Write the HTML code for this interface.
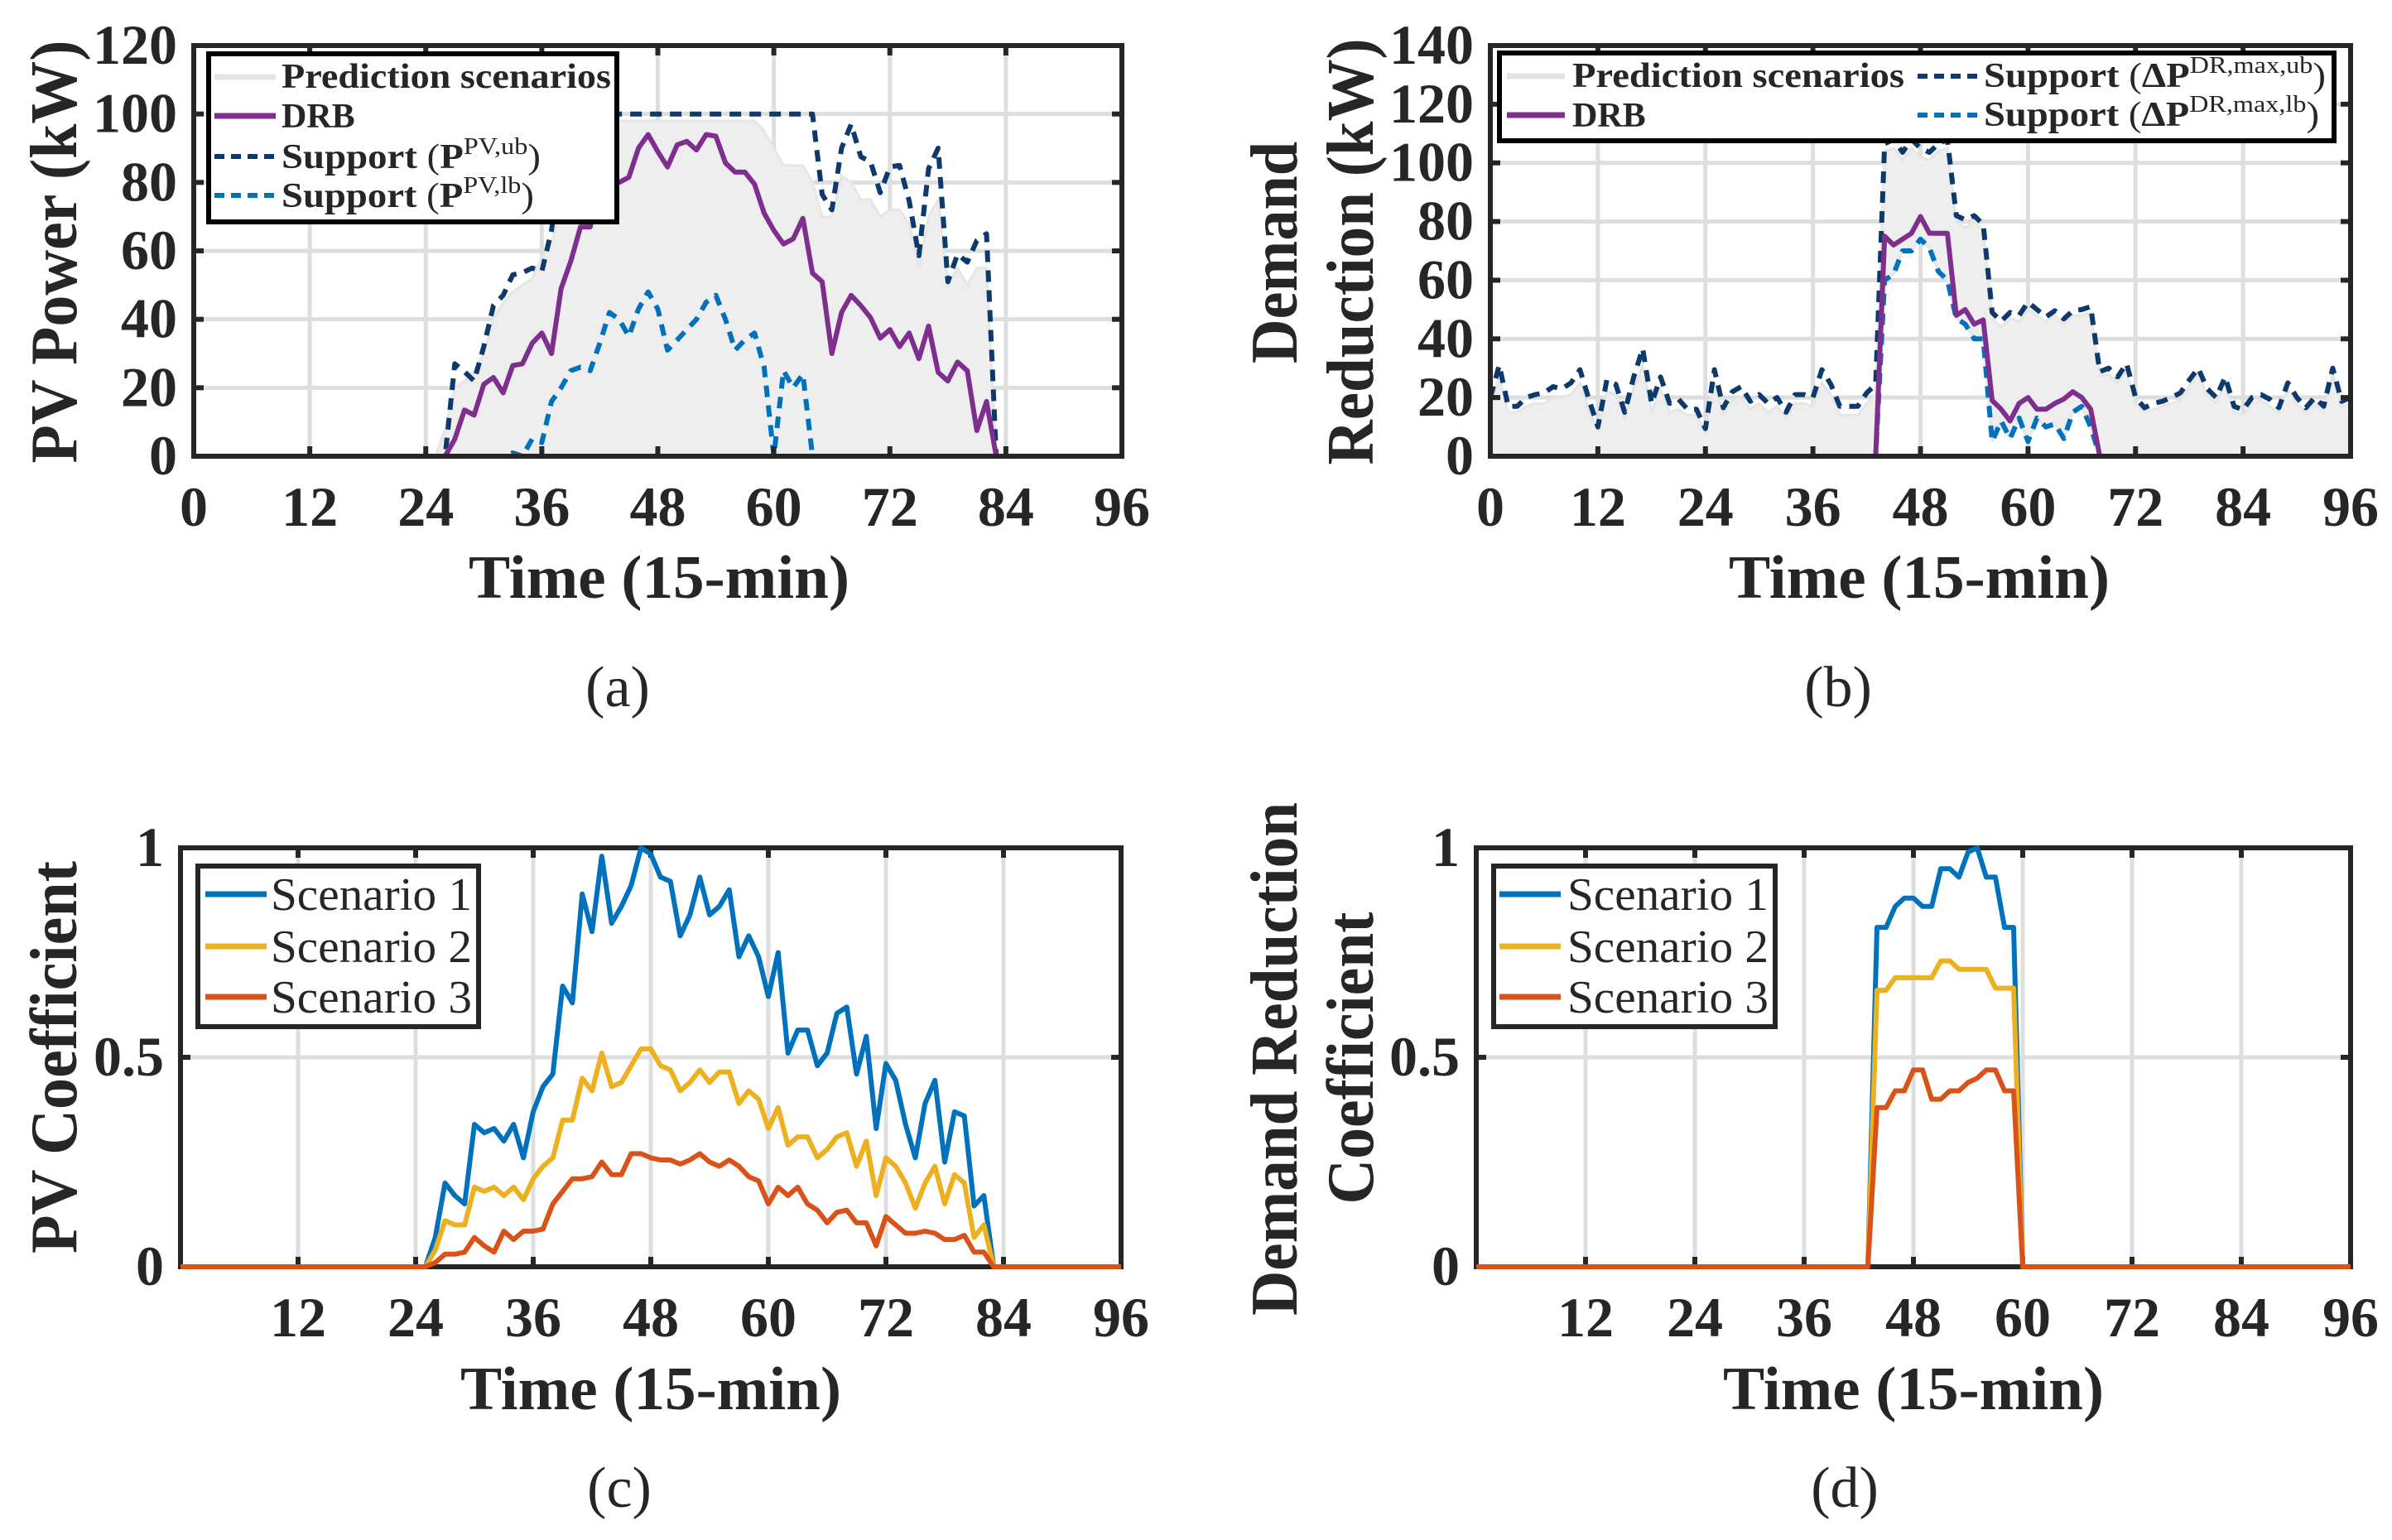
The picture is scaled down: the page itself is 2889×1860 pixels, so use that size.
<!DOCTYPE html>
<html><head><meta charset="utf-8"><style>
html,body{margin:0;padding:0;background:#fff;}
svg{display:block;}
text{font-family:"Liberation Serif",serif;fill:#262626;}
</style></head><body>
<svg id="fig" width="2889" height="1860" viewBox="0 0 2889 1860" xmlns="http://www.w3.org/2000/svg">
<rect x="0" y="0" width="2889" height="1860" fill="#fff"/>
<g id="layer"></g>
</svg>
<script>
// ---------- Panel (a) data: PV power (kW) ----------
const timeTicks = [0,12,24,36,48,60,72,84,96];
const yTicksA = [0,20,40,60,80,100,120];
const yTicksB = [0,20,40,60,80,100,120,140];
const yTicksC = [0,0.5,1];
const yTickLabelsC = ["0","0.5","1"];
const drbAStart = 27;
const drbA = [5,13.5,12,21,23,18.5,26.5,27,33,36,30,49,57,67,67,79,79,80,81.5,90,94,89,84.5,91,92,89.5,94,93.5,85.7,83,83,79.5,71,66,62,63.5,69.5,53.5,51,30,42,47,44,40.5,34.5,37,32,36,28.5,38,24.5,22,27.5,25,7.5,16,0];
const ubAStart = 27;
const ubA = [27,24.7,22,32,44,47,53,53.6,55,54,66,85,100,100,100,100,100,100,100,100,100,100,100,100,100,100,100,100,100,100,100,100,100,100,100,100,100,100,76.5,72,90,97,87.5,86,77,84.5,85,74.6,58.6,84,90,51,59,56.7,63,65,0];
const lbAStart = 33;
const lbA = [1,0,5,4,16,20,25,26,25,33,42,40,35,43,48,43,31,34,37,40,45,47,40,31,34,36,26,0,25,20,24,0];
const scenMaxAStart = 26;
const scenMaxA = [8,20,22,25,30,40,45,48,50,52,58,62,72,85,95,97,98,98,98,98,98,98,98,98,98,98,98,98,98,98,98,98,98,95,90,85,85,85,80,70,70,82,80,75,75,70,72,72,68,55,70,75,50,55,50,55,55,0];
// ---------- Panel (b) data: demand reduction (kW) ----------
const ubB = [20,31,17,17,20,21,21.6,23.7,23,25,29.5,19.4,10,26,24.5,15,27,36.7,18,27,18,19.4,16,16,9.4,29.5,16.5,22,23.7,18.7,21,18,20,15,21,21,20,29.5,24.5,17,17,17,21.6,24.5,
106.5,108,103.6,108,105,103.6,106.5,108,82,80.6,82,79,49,46,49,48,52.5,50,47.5,49.6,46.8,49.6,50,51,28.8,30,27,31.6,20,16.5,18,18.7,20,21.6,26,30,23,20,27,17,15.8,20,21,19.4,16.5,25,20,16.5,20,17,30,18.7,20];
const scenMaxB = [17,27,15,15,17,18,18,20,20,21,25,16,9,22,21,13,23,31,15,23,15,16,14,14,8,25,14,19,20,16,18,15,17,13,18,18,17,25,21,14,14,14,18,21,
104,105,101,105,102,101,104,105,80,78,80,77,47,44,47,46,50,48,46,48,45,48,48,49,27,28,25,29,18,15,16,17,18,19,24,28,21,18,25,15,14,18,19,17,15,23,18,15,18,15,28,17,18];
const drbBStart = 44;
const drbB = [75,72,74,76,81.7,76,76,76,48,50,45,46.5,19,16,12,18,20,16,16,18,19.5,22,20,16,0];
const lbBStart = 44;
const lbB = [60,62,70,70,74,71,63,60,47,45,40,40,5,12,6,13,5,13,10,11,6,15,17,10,0];
// ---------- Panel (c) data: PV coefficient ----------
const sCStart = 26;
const s1C = [0.07,0.2,0.17,0.15,0.34,0.32,0.33,0.3,0.34,0.26,0.37,0.43,0.46,0.67,0.63,0.89,0.8,0.98,0.82,0.86,0.91,1.0,0.985,0.93,0.92,0.79,0.84,0.93,0.84,0.86,0.9,0.74,0.79,0.74,0.645,0.75,0.51,0.565,0.565,0.48,0.51,0.605,0.62,0.46,0.55,0.33,0.485,0.445,0.34,0.26,0.39,0.445,0.25,0.37,0.36,0.145,0.17,0];
const s2C = [0.04,0.11,0.1,0.1,0.19,0.18,0.19,0.17,0.19,0.16,0.21,0.24,0.26,0.35,0.35,0.45,0.42,0.51,0.43,0.44,0.48,0.52,0.52,0.48,0.47,0.42,0.44,0.47,0.44,0.465,0.465,0.39,0.42,0.4,0.33,0.38,0.29,0.31,0.31,0.26,0.28,0.31,0.32,0.24,0.3,0.17,0.26,0.24,0.2,0.14,0.2,0.24,0.15,0.22,0.2,0.07,0.1,0];
const s3C = [0.01,0.03,0.03,0.035,0.07,0.05,0.035,0.085,0.065,0.085,0.085,0.09,0.15,0.18,0.21,0.21,0.215,0.25,0.22,0.22,0.27,0.27,0.26,0.255,0.255,0.245,0.255,0.27,0.25,0.24,0.255,0.24,0.215,0.205,0.15,0.19,0.17,0.19,0.15,0.135,0.105,0.13,0.135,0.105,0.105,0.05,0.12,0.1,0.08,0.08,0.085,0.08,0.065,0.065,0.075,0.035,0.035,0];
// ---------- Panel (d) data: demand reduction coefficient ----------
const sDStart = 44;
const s1D = [0.81,0.81,0.86,0.88,0.88,0.86,0.86,0.95,0.95,0.93,0.99,1.0,0.93,0.93,0.81,0.81];
const s2D = [0.66,0.66,0.69,0.69,0.69,0.69,0.69,0.73,0.73,0.71,0.71,0.71,0.71,0.665,0.665,0.665];
const s3D = [0.38,0.38,0.42,0.42,0.47,0.47,0.40,0.40,0.42,0.42,0.44,0.45,0.47,0.47,0.42,0.42];

const NS = "http://www.w3.org/2000/svg";
const layer = document.getElementById("layer");
function mk(tag, attrs, parent){
  const e = document.createElementNS(NS, tag);
  for (const k in attrs) e.setAttribute(k, attrs[k]);
  (parent || layer).appendChild(e);
  return e;
}
function full(start, seg){
  const out = [];
  for (let t = 0; t <= 96; t++){
    const i = t - start;
    out.push(i >= 0 && i < seg.length ? seg[i] : 0);
  }
  return out;
}
function makeAxes(p){
  p.xs = t => p.x0 + (p.x1 - p.x0) * t / 96;
  p.ys = v => p.y0 - (p.y0 - p.y1) * v / p.ymax;
  return p;
}
function drawFrame(p, name){
  const g = mk("g", {});
  
  
  p.gridX.forEach(t => {
    const l = mk("line", {x1:p.xs(t), x2:p.xs(t), y1:p.y0, y2:p.y1, stroke:"#dedede", "stroke-width":5}, g);
    
    
  });
  p.gridY.forEach(v => {
    const l = mk("line", {x1:p.x0, x2:p.x1, y1:p.ys(v), y2:p.ys(v), stroke:"#dedede", "stroke-width":5}, g);
    
    
  });
  return g;
}
function drawBox(p, name){
  const g = mk("g", {});
  
  
  timeTicks.forEach(t => {
    mk("line", {x1:p.xs(t), x2:p.xs(t), y1:p.y0, y2:p.y0-12, stroke:"#262626", "stroke-width":6}, g);
    mk("line", {x1:p.xs(t), x2:p.xs(t), y1:p.y1, y2:p.y1+12, stroke:"#262626", "stroke-width":6}, g);
  });
  p.yt.forEach(v => {
    mk("line", {x1:p.x0, x2:p.x0+12, y1:p.ys(v), y2:p.ys(v), stroke:"#262626", "stroke-width":6}, g);
    mk("line", {x1:p.x1, x2:p.x1-12, y1:p.ys(v), y2:p.ys(v), stroke:"#262626", "stroke-width":6}, g);
  });
  mk("rect", {x:p.x0, y:p.y1, width:p.x1-p.x0, height:p.y0-p.y1, fill:"none", stroke:"#262626", "stroke-width":6}, g);
  p.xLabels.forEach(t => {
    const tx = mk("text", {x:p.xs(t), y:p.xlabY, "text-anchor":"middle", "font-size":68, "font-weight":"bold"});
    tx.textContent = String(t);
    
    
  });
  p.yt.forEach((v, i) => {
    const ty = mk("text", {x:p.x0-20, y:p.ys(v)+22, "text-anchor":"end", "font-size":68, "font-weight":"bold"});
    ty.textContent = p.ylabels ? p.ylabels[i] : String(v);
    
    
  });
}
function linePath(p, vals){
  let d = "";
  vals.forEach((v, t) => { d += (t ? "L" : "M") + p.xs(t).toFixed(1) + "," + p.ys(v).toFixed(1); });
  return d;
}
function drawLine(p, vals, color, dashed, name, w){
  const e = mk("path", {d:linePath(p, vals), fill:"none", stroke:color, "stroke-width":w||6, "stroke-linejoin":"round", "stroke-dasharray": dashed ? "14,10" : "none"});
  
  
  return e;
}
function drawBand(p, hi, lo, name){
  let d = "";
  hi.forEach((v, t) => { d += (t ? "L" : "M") + p.xs(t).toFixed(1) + "," + p.ys(Math.min(v, p.ymax)).toFixed(1); });
  for (let t = 96; t >= 0; t--) d += "L" + p.xs(t).toFixed(1) + "," + p.ys(lo[t]).toFixed(1);
  d += "Z";
  const e = mk("path", {d:d, fill:"#eeeeee", stroke:"#e6e6e6", "stroke-width":3});
  
  
}

const zeros = full(0, []);
const PA = makeAxes({x0:234, x1:1355, y0:551, y1:55, ymax:120, yt:yTicksA, gridX:[12,24,36,48,60,72,84], gridY:[20,40,60,80,100], xLabels:timeTicks, xlabY:635});
drawFrame(PA, "pv-power");
drawBand(PA, full(scenMaxAStart, scenMaxA), zeros, "prediction-scenarios-band-a");
drawLine(PA, full(lbAStart, lbA), "#0072BD", true, "support-lower-line-a");
drawLine(PA, full(ubAStart, ubA), "#0E3A6B", true, "support-upper-line-a");
drawLine(PA, full(drbAStart, drbA), "#7E2F8E", false, "drb-line-a");
drawBox(PA, "pv-power");
const PB = makeAxes({x0:1800, x1:2839, y0:551, y1:55, ymax:140, yt:yTicksB, gridX:[12,24,36,48,60,72,84], gridY:[20,40,60,80,100,120], xLabels:timeTicks, xlabY:635});
drawFrame(PB, "demand-reduction");
drawBand(PB, scenMaxB, full(lbBStart, lbB), "prediction-scenarios-band-b");
drawLine(PB, full(lbBStart, lbB), "#0072BD", true, "support-lower-line-b");
drawLine(PB, ubB, "#0E3A6B", true, "support-upper-line-b");
drawLine(PB, full(drbBStart, drbB), "#7E2F8E", false, "drb-line-b");
drawBox(PB, "demand-reduction");
const PC = makeAxes({x0:218, x1:1354, y0:1530, y1:1024, ymax:1, yt:yTicksC, ylabels:yTickLabelsC, gridX:[12,24,36,48,60,72,84], gridY:[0.5], xLabels:timeTicks.slice(1), xlabY:1614});
drawFrame(PC, "pv-coefficient");
drawBox(PC, "pv-coefficient");
drawLine(PC, full(sCStart, s1C), "#0072BD", false, "scenario-1-line-c");
drawLine(PC, full(sCStart, s2C), "#EDB120", false, "scenario-2-line-c");
drawLine(PC, full(sCStart, s3C), "#D95319", false, "scenario-3-line-c");
const PD = makeAxes({x0:1783, x1:2839, y0:1530, y1:1024, ymax:1, yt:yTicksC, ylabels:yTickLabelsC, gridX:[12,24,36,48,60,72,84], gridY:[0.5], xLabels:timeTicks.slice(1), xlabY:1614});
drawFrame(PD, "dr-coefficient");
drawBox(PD, "dr-coefficient");
drawLine(PD, full(sDStart, s1D), "#0072BD", false, "scenario-1-line-d");
drawLine(PD, full(sDStart, s2D), "#EDB120", false, "scenario-2-line-d");
drawLine(PD, full(sDStart, s3D), "#D95319", false, "scenario-3-line-d");
</script>
<svg width="2889" height="1860" viewBox="0 0 2889 1860" style="position:absolute;left:0;top:0;pointer-events:none" xmlns="http://www.w3.org/2000/svg">
<g>
<rect x="252" y="65" width="493" height="203" fill="#fff" stroke="#000" stroke-width="6"/>
<line x1="259" x2="333" y1="93" y2="93" stroke="#e3e3e3" stroke-width="7"/>
<text x="340" y="106" font-size="42" font-weight="bold" fill="#000" textLength="398" lengthAdjust="spacingAndGlyphs">Prediction scenarios</text>
<line x1="259" x2="333" y1="140" y2="140" stroke="#7E2F8E" stroke-width="7"/>
<text x="340" y="154" font-size="42" font-weight="bold" fill="#000">DRB</text>
<line x1="259" x2="333" y1="189" y2="189" stroke="#0E3A6B" stroke-width="6" stroke-dasharray="12,8"/>
<text x="340" y="203" font-size="42" fill="#000" textLength="313" lengthAdjust="spacingAndGlyphs"><tspan font-weight="bold">Support </tspan>(<tspan font-weight="bold">P</tspan><tspan dy="-17" font-size="29">PV,ub</tspan><tspan dy="17">)</tspan></text>
<line x1="259" x2="333" y1="236" y2="236" stroke="#0072BD" stroke-width="6" stroke-dasharray="12,8"/>
<text x="340" y="250" font-size="42" fill="#000" textLength="305" lengthAdjust="spacingAndGlyphs"><tspan font-weight="bold">Support </tspan>(<tspan font-weight="bold">P</tspan><tspan dy="-17" font-size="29">PV,lb</tspan><tspan dy="17">)</tspan></text>
</g>
<g>
<rect x="1811" y="64" width="1008" height="106" fill="#fff" stroke="#000" stroke-width="6"/>
<line x1="1820" x2="1890" y1="92" y2="92" stroke="#e3e3e3" stroke-width="7"/>
<text x="1899" y="105" font-size="42" font-weight="bold" fill="#000" textLength="401" lengthAdjust="spacingAndGlyphs">Prediction scenarios</text>
<line x1="1820" x2="1890" y1="139" y2="139" stroke="#7E2F8E" stroke-width="7"/>
<text x="1899" y="153" font-size="42" font-weight="bold" fill="#000">DRB</text>
<line x1="2316" x2="2390" y1="92" y2="92" stroke="#0E3A6B" stroke-width="6" stroke-dasharray="12,8"/>
<text x="2396" y="105" font-size="42" fill="#000" textLength="413" lengthAdjust="spacingAndGlyphs"><tspan font-weight="bold">Support </tspan>(<tspan font-weight="bold">ΔP</tspan><tspan dy="-17" font-size="29">DR,max,ub</tspan><tspan dy="17">)</tspan></text>
<line x1="2316" x2="2390" y1="139" y2="139" stroke="#0072BD" stroke-width="6" stroke-dasharray="12,8"/>
<text x="2396" y="152" font-size="42" fill="#000" textLength="405" lengthAdjust="spacingAndGlyphs"><tspan font-weight="bold">Support </tspan>(<tspan font-weight="bold">ΔP</tspan><tspan dy="-17" font-size="29">DR,max,lb</tspan><tspan dy="17">)</tspan></text>
</g>
<g>
<rect x="239" y="1046" width="339" height="194" fill="#fff" stroke="#262626" stroke-width="6"/>
<line x1="248" x2="322" y1="1080" y2="1080" stroke="#0072BD" stroke-width="7"/>
<text x="327" y="1099" font-size="56" fill="#000" textLength="243" lengthAdjust="spacingAndGlyphs">Scenario 1</text>
<line x1="248" x2="322" y1="1143" y2="1143" stroke="#EDB120" stroke-width="7"/>
<text x="327" y="1162" font-size="56" fill="#000" textLength="243" lengthAdjust="spacingAndGlyphs">Scenario 2</text>
<line x1="248" x2="322" y1="1204" y2="1204" stroke="#D95319" stroke-width="7"/>
<text x="327" y="1223" font-size="56" fill="#000" textLength="243" lengthAdjust="spacingAndGlyphs">Scenario 3</text>
</g>
<g>
<rect x="1804" y="1046" width="340" height="194" fill="#fff" stroke="#262626" stroke-width="6"/>
<line x1="1811" x2="1885" y1="1080" y2="1080" stroke="#0072BD" stroke-width="7"/>
<text x="1893" y="1099" font-size="56" fill="#000" textLength="243" lengthAdjust="spacingAndGlyphs">Scenario 1</text>
<line x1="1811" x2="1885" y1="1143" y2="1143" stroke="#EDB120" stroke-width="7"/>
<text x="1893" y="1162" font-size="56" fill="#000" textLength="243" lengthAdjust="spacingAndGlyphs">Scenario 2</text>
<line x1="1811" x2="1885" y1="1204" y2="1204" stroke="#D95319" stroke-width="7"/>
<text x="1893" y="1223" font-size="56" fill="#000" textLength="243" lengthAdjust="spacingAndGlyphs">Scenario 3</text>
</g>
<text x="796" y="722" font-size="74" font-weight="bold" text-anchor="middle" textLength="460" lengthAdjust="spacingAndGlyphs">Time (15-min)</text>
<text x="2318" y="722" font-size="74" font-weight="bold" text-anchor="middle" textLength="460" lengthAdjust="spacingAndGlyphs">Time (15-min)</text>
<text x="786" y="1702" font-size="74" font-weight="bold" text-anchor="middle" textLength="460" lengthAdjust="spacingAndGlyphs">Time (15-min)</text>
<text x="2311" y="1702" font-size="74" font-weight="bold" text-anchor="middle" textLength="460" lengthAdjust="spacingAndGlyphs">Time (15-min)</text>
<text transform="translate(92,304) rotate(-90)" font-size="80" font-weight="bold" text-anchor="middle" textLength="511" lengthAdjust="spacingAndGlyphs">PV Power (kW)</text>
<text transform="translate(1566,305) rotate(-90)" font-size="80" font-weight="bold" text-anchor="middle" textLength="268" lengthAdjust="spacingAndGlyphs">Demand</text>
<text transform="translate(1658,304) rotate(-90)" font-size="80" font-weight="bold" text-anchor="middle" textLength="515" lengthAdjust="spacingAndGlyphs">Reduction (kW)</text>
<text transform="translate(92,1277) rotate(-90)" font-size="80" font-weight="bold" text-anchor="middle" textLength="474" lengthAdjust="spacingAndGlyphs">PV Coefficient</text>
<text transform="translate(1566,1279) rotate(-90)" font-size="80" font-weight="bold" text-anchor="middle" textLength="620" lengthAdjust="spacingAndGlyphs">Demand Reduction</text>
<text transform="translate(1658,1278) rotate(-90)" font-size="80" font-weight="bold" text-anchor="middle" textLength="353" lengthAdjust="spacingAndGlyphs">Coefficient</text>
<text x="746" y="853" font-size="70" text-anchor="middle" fill="#000">(a)</text>
<text x="2220" y="853" font-size="70" text-anchor="middle" fill="#000">(b)</text>
<text x="748" y="1820" font-size="70" text-anchor="middle" fill="#000">(c)</text>
<text x="2228" y="1820" font-size="70" text-anchor="middle" fill="#000">(d)</text>
</svg>
</body></html>
